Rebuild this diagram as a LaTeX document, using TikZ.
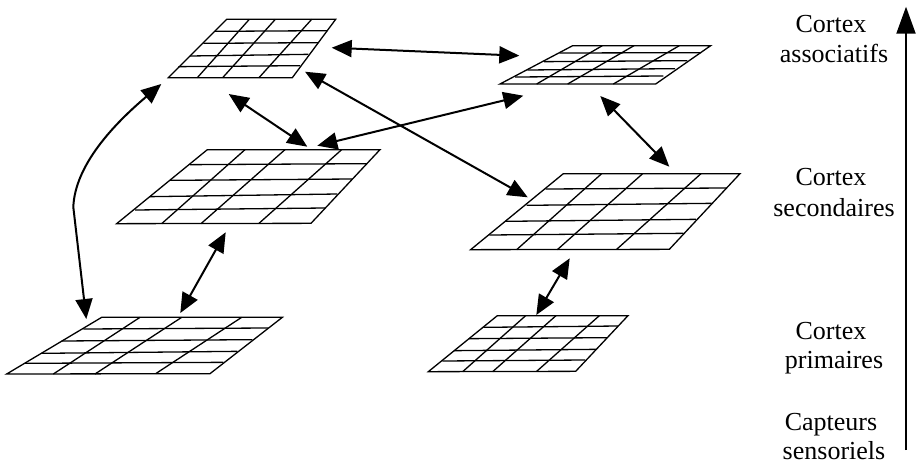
\documentclass[tikz,border=0pt]{standalone}
\usepackage{fontspec}
\setmainfont{Liberation Serif}
\usetikzlibrary{arrows.meta}
\tikzset{
  gridline/.style={draw=black,line width=1.3pt,line join=miter},
  link/.style={draw=black,line width=2pt,{Triangle[length=20pt,width=17pt]}-{Triangle[length=20pt,width=17pt]}},
  axis/.style={draw=black,line width=2pt,-{Triangle[length=27pt,width=19pt]}},
  lab/.style={anchor=base,inner sep=0pt,font=\fontsize{26}{30}\selectfont},
  plate/.style={x=1pt/3,y=-1pt/3}
}
% #1 = outer corners, #2 = ribs top/bottom, #3 = rows left/right
\newcommand{\plategrid}[3]{%
  \draw[gridline] #1 -- cycle;
  \foreach \a/\b/\c/\d in {#2} {\draw[gridline] (\a,\b) -- (\c,\d);}
  \foreach \a/\b/\c/\d in {#3} {\draw[gridline] (\a,\b) -- (\c,\d);}
}
\begin{document}
\begin{tikzpicture}[x=1pt,y=-1pt]
\useasboundingbox (0,0) rectangle (917,463);

% plates
\begin{scope}[plate]
  \plategrid{(680,58) -- (1007,58) -- (877,233) -- (505,233)}
   {748/58/592/233,826/58/668/233,935/58/777/233}
   {645/94/982/92,610/130/955/128,570/168/925/163,535/200/900/197}
  \plategrid{(622,449) -- (1140,449) -- (933,670) -- (350,671)}
   {735/449/485/671,855/449/603/671,1025/449/777/670}
   {570/494/1102/491,510/541/1058/537,450/590/1012/582,405/630/975/624}
\end{scope}
\begin{scope}[plate,shift={(0pt,-230pt)}]
  \plategrid{(305,262) -- (847,262) -- (630,431) -- (20,432)}
   {420/262/160/432,545/262/285/432,725/262/467/431}
   {250/297/805/294,185/333/757/329,125/370/712/364,75/400/670/397}
\end{scope}
\begin{scope}[plate,shift={(400pt,0pt)}]
  \plategrid{(518,137) -- (932,137) -- (767,252) -- (300,252)}
   {607/137/410/252,702/137/503/252,838/137/640/252}
   {478/159/903/158,432/185/862/182,382/210/825/206,345/231/790/228}
  \plategrid{(490,521) -- (1020,521) -- (808,748) -- (212,749)}
   {605/521/350/749,728/521/472/749,903/521/650/748}
   {437/567/980/564,380/616/935/610,315/664/888/658,268/705/850/700}
\end{scope}
\begin{scope}[plate,shift={(400pt,-230pt)}]
  \plategrid{(292,257) -- (684,257) -- (527,424) -- (85,425)}
   {377/257/188/425,468/257/278/425,598/257/410/424}
   {250/292/655/288,207/326/622/323,162/362/588/358,127/393/555/390}
\end{scope}

% connector ends
\coordinate (a1) at (331.7,47.7);  \coordinate (b1) at (519.3,55.7);
\coordinate (a2) at (305,71.7);    \coordinate (b2) at (527.7,197.3);
\coordinate (a3) at (317.3,145.7); \coordinate (b3) at (523.3,95.7);
\coordinate (a4) at (228.7,94);    \coordinate (b4) at (307.3,146.7);
\coordinate (a5) at (600.3,96);    \coordinate (b5) at (669.3,166.7);
\coordinate (a6) at (225.7,232.3); \coordinate (b6) at (180.3,313);
\coordinate (a7) at (569.7,258.3); \coordinate (b7) at (536.3,315);
\coordinate (a8) at (161.3,84);    \coordinate (m8) at (73.3,207);
\coordinate (b8) at (86.3,319);
\coordinate (ax0) at (906,450);    \coordinate (ax1) at (906,6.7);

\draw[link] (a1) -- (b1);
\draw[link] (a2) -- (b2);
\draw[link] (a3) -- (b3);
\draw[link] (a4) -- (b4);
\draw[link] (a5) -- (b5);
\draw[link] (a6) -- (b6);
\draw[link] (a7) -- (b7);
\draw[link] (a8) .. controls (114,124) and (75,165) .. (m8) -- (b8);
\draw[axis] (ax0) -- (ax1);

% labels
\node[lab] (l1a) at (831,32.3) {Cortex};
\node[lab] (l1b) at (834,62.7) {associatifs};
\node[lab] (l2a) at (831,185) {Cortex};
\node[lab] (l2b) at (834,216) {secondaires};
\node[lab] (l3a) at (831,339.3) {Cortex};
\node[lab] (l3b) at (834,368.3) {primaires};
\node[lab] (l4a) at (831,430.7) {Capteurs};
\node[lab] (l4b) at (834,459.5) {sensoriels};
\end{tikzpicture}
\end{document}
